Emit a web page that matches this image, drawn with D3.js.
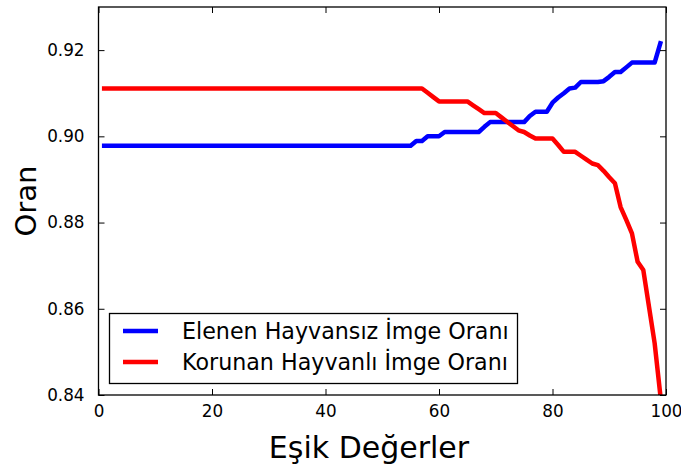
<!DOCTYPE html>
<html>
<head>
<meta charset="utf-8">
<script src="https://cdn.jsdelivr.net/npm/d3@7"></script>
<style>
  html, body { margin: 0; padding: 0; background: #fff; }
  svg { display: block; }
  text { font-family: "DejaVu Sans", sans-serif; fill: #000; }
</style>
</head>
<body>
<svg id="chart" width="681" height="468"></svg>
<script>
// Threshold values (x axis)
const thresholds = d3.range(1, 100);

// Ratio of discarded images without animals, one value per threshold 1..99
const discardedEmpty = [
  0.8978, 0.8978, 0.8978, 0.8978, 0.8978, 0.8978, 0.8978, 0.8978, 0.8978, 0.8978, // 1-10
  0.8978, 0.8978, 0.8978, 0.8978, 0.8978, 0.8978, 0.8978, 0.8978, 0.8978, 0.8978, // 11-20
  0.8978, 0.8978, 0.8978, 0.8978, 0.8978, 0.8978, 0.8978, 0.8978, 0.8978, 0.8978, // 21-30
  0.8978, 0.8978, 0.8978, 0.8978, 0.8978, 0.8978, 0.8978, 0.8978, 0.8978, 0.8978, // 31-40
  0.8978, 0.8978, 0.8978, 0.8978, 0.8978, 0.8978, 0.8978, 0.8978, 0.8978, 0.8978, // 41-50
  0.8978, 0.8978, 0.8978, 0.8978, 0.8978, 0.8989, 0.8989, 0.9000, 0.9000, 0.9000, // 51-60
  0.9010, 0.9010, 0.9010, 0.9010, 0.9010, 0.9010, 0.9010, 0.9022, 0.9033, 0.9033, // 61-70
  0.9033, 0.9033, 0.9033, 0.9033, 0.9033, 0.9047, 0.9057, 0.9057, 0.9057, 0.9078, // 71-80
  0.9090, 0.9100, 0.9111, 0.9113, 0.9126, 0.9126, 0.9126, 0.9126, 0.9128, 0.9138, // 81-90
  0.9149, 0.9149, 0.9160, 0.9171, 0.9171, 0.9171, 0.9171, 0.9171, 0.9216          // 91-99
];

// Ratio of kept images with animals, one value per threshold 1..99
const keptAnimal = [
  0.9111, 0.9111, 0.9111, 0.9111, 0.9111, 0.9111, 0.9111, 0.9111, 0.9111, 0.9111, // 1-10
  0.9111, 0.9111, 0.9111, 0.9111, 0.9111, 0.9111, 0.9111, 0.9111, 0.9111, 0.9111, // 11-20
  0.9111, 0.9111, 0.9111, 0.9111, 0.9111, 0.9111, 0.9111, 0.9111, 0.9111, 0.9111, // 21-30
  0.9111, 0.9111, 0.9111, 0.9111, 0.9111, 0.9111, 0.9111, 0.9111, 0.9111, 0.9111, // 31-40
  0.9111, 0.9111, 0.9111, 0.9111, 0.9111, 0.9111, 0.9111, 0.9111, 0.9111, 0.9111, // 41-50
  0.9111, 0.9111, 0.9111, 0.9111, 0.9111, 0.9111, 0.9111, 0.9101, 0.9091, 0.9081, // 51-60
  0.9081, 0.9081, 0.9081, 0.9081, 0.9081, 0.9072, 0.9063, 0.9054, 0.9054, 0.9054, // 61-70
  0.9044, 0.9034, 0.9024, 0.9014, 0.9010, 0.9002, 0.8995, 0.8995, 0.8995, 0.8995, // 71-80
  0.8980, 0.8964, 0.8964, 0.8964, 0.8955, 0.8946, 0.8937, 0.8933, 0.8920, 0.8905, // 81-90
  0.8891, 0.8836, 0.8806, 0.8775, 0.8709, 0.8690, 0.8605, 0.8520, 0.8400          // 91-99
];

const xTicks = [0, 20, 40, 60, 80, 100];
const yTicks = [0.84, 0.86, 0.88, 0.90, 0.92];

const seriesNames = ["Elenen Hayvansız İmge Oranı", "Korunan Hayvanlı İmge Oranı"];
const seriesColors = ["#0000ff", "#ff0000"];

const svg = d3.select("#chart");
const plot = { left: 98.5, right: 666, top: 7, bottom: 395 };

const x = d3.scaleLinear().domain([0, 100]).range([plot.left, plot.right]);
const y = d3.scaleLinear().domain([0.84, 0.93]).range([plot.bottom, plot.top]);

// Clip lines to the axes box
svg.append("defs").append("clipPath").attr("id", "plotClip")
  .append("rect")
  .attr("x", plot.left).attr("y", plot.top)
  .attr("width", plot.right - plot.left).attr("height", plot.bottom - plot.top);

const series = [discardedEmpty, keptAnimal];
const line = d3.line()
  .x((d, i) => x(thresholds[i]))
  .y(d => y(d));

const lines = svg.append("g").attr("clip-path", "url(#plotClip)");
series.forEach((vals, k) => {
  lines.append("path")
    .datum(vals)
    .attr("d", line)
    .attr("fill", "none")
    .attr("stroke", seriesColors[k])
    .attr("stroke-width", 4.5)
    .attr("stroke-linejoin", "round")
    .attr("stroke-linecap", "square");
});

// Axes: ticks pointing inward on all four sides
const tickLen = 6;
const fmtY = d3.format(".2f");

const bottomAxis = d3.axisBottom(x).tickValues(xTicks).tickSizeInner(-tickLen).tickSizeOuter(0).tickPadding(10).tickFormat(d3.format("d"));
const topAxis = d3.axisTop(x).tickValues(xTicks).tickSizeInner(-tickLen).tickSizeOuter(0).tickFormat("");
const leftAxis = d3.axisLeft(y).tickValues(yTicks).tickSizeInner(-tickLen).tickSizeOuter(0).tickPadding(14).tickFormat(fmtY);
const rightAxis = d3.axisRight(y).tickValues(yTicks).tickSizeInner(-tickLen).tickSizeOuter(0).tickFormat("");

function styleAxis(g) {
  g.select(".domain").remove();
  g.selectAll(".tick line").attr("stroke", "#000").attr("stroke-width", 1);
  g.selectAll(".tick text").attr("font-family", "DejaVu Sans, sans-serif").attr("font-size", 16.8).attr("fill", "#000");
}

svg.append("g").attr("transform", `translate(0,${plot.bottom})`).call(bottomAxis).call(styleAxis);
svg.append("g").attr("transform", `translate(0,${plot.top})`).call(topAxis).call(styleAxis);
svg.append("g").attr("transform", `translate(${plot.left},0)`).call(leftAxis).call(styleAxis);
svg.append("g").attr("transform", `translate(${plot.right},0)`).call(rightAxis).call(styleAxis);

// Axes frame
svg.append("rect")
  .attr("x", plot.left).attr("y", plot.top)
  .attr("width", plot.right - plot.left).attr("height", plot.bottom - plot.top)
  .attr("fill", "none").attr("stroke", "#000").attr("stroke-width", 1.3);

// Axis titles
svg.append("text")
  .attr("x", 369).attr("y", 458)
  .attr("text-anchor", "middle").attr("font-size", 30)
  .text("Eşik Değerler");

svg.append("text")
  .attr("transform", `translate(36,${(plot.top + plot.bottom) / 2}) rotate(-90)`)
  .attr("text-anchor", "middle").attr("font-size", 29)
  .text("Oran");

// Legend
const legend = svg.append("g");
legend.append("rect")
  .attr("x", 109.5).attr("y", 313.5).attr("width", 408).attr("height", 70)
  .attr("fill", "#fff").attr("stroke", "#000").attr("stroke-width", 1.3);

seriesNames.forEach((name, k) => {
  const cy = 331 + k * 31;
  legend.append("line")
    .attr("x1", 123).attr("x2", 158).attr("y1", cy).attr("y2", cy)
    .attr("stroke", seriesColors[k]).attr("stroke-width", 4.5);
  legend.append("text")
    .attr("x", 182).attr("y", cy).attr("dy", "0.35em")
    .attr("font-size", 22.2)
    .text(name);
});
</script>
</body>
</html>
